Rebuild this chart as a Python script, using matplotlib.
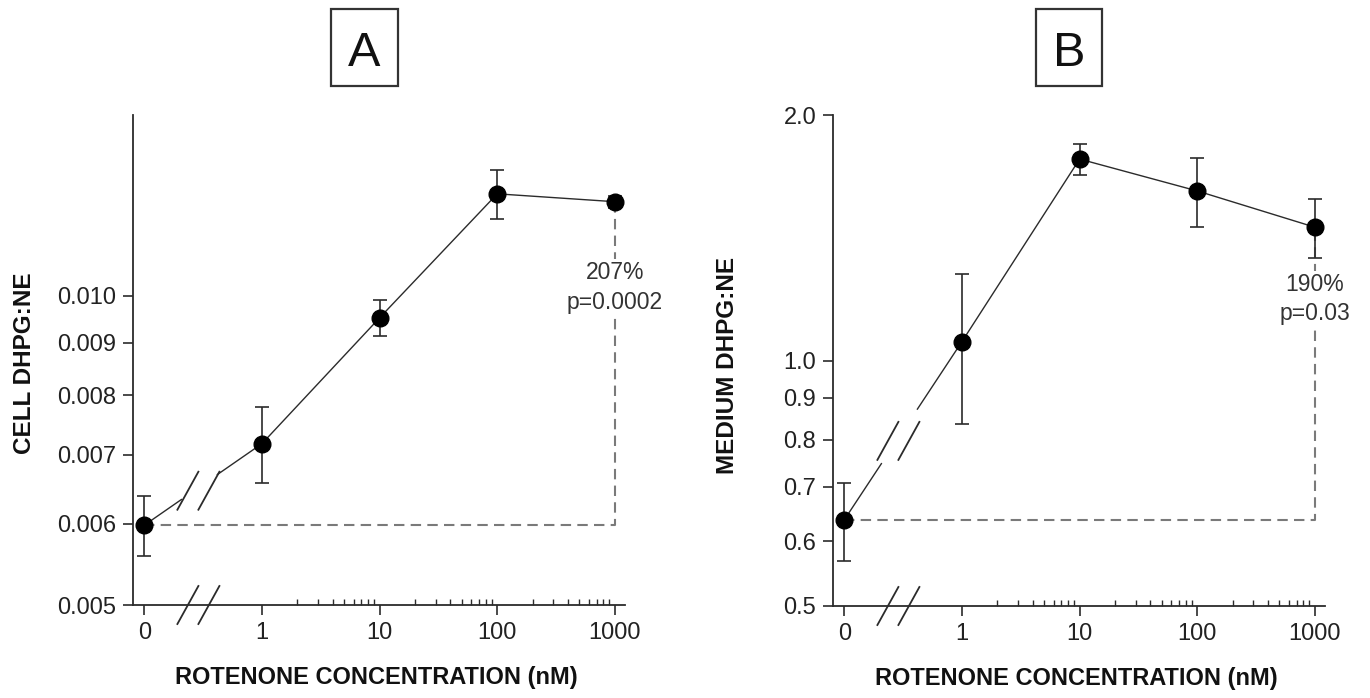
import matplotlib
matplotlib.use("Agg")
import matplotlib.pyplot as plt
import numpy as np
from matplotlib import transforms
from matplotlib.patches import Rectangle
from matplotlib.ticker import FixedLocator, NullLocator

plt.rcParams['font.family'] = ['Liberation Sans', 'DejaVu Sans']

# Rotenone concentrations (nM) and tick labels
conc = [0, 1, 10, 100, 1000]
conc_labels = ["0", "1", "10", "100", "1000"]

# Panel A: cell DHPG:NE ratio (mean, SEM)
cell_mean = [0.00598, 0.00718, 0.00952, 0.01257, 0.01235]
cell_sem = [0.00040, 0.00061, 0.00039, 0.00068, 0.00017]
cell_note = "207%\np=0.0002"

# Panel B: medium DHPG:NE ratio (mean, SEM)
medium_mean = [0.638, 1.055, 1.766, 1.614, 1.457]
medium_sem = [0.070, 0.220, 0.077, 0.155, 0.121]
medium_note = "190%\np=0.03"

cell_yticks = [0.005, 0.006, 0.007, 0.008, 0.009, 0.010]
cell_ylabels = ["0.005", "0.006", "0.007", "0.008", "0.009", "0.010"]
medium_yticks = [0.5, 0.6, 0.7, 0.8, 0.9, 1.0, 2.0]
medium_ylabels = ["0.5", "0.6", "0.7", "0.8", "0.9", "1.0", "2.0"]

ZERO_POS = 0.1          # where the control (0 nM) sits on the log axis
INK = "#2b2b2b"
DASH = "#7a7a7a"

W, H = 1370, 698
fig = plt.figure(figsize=(W / 100, H / 100), dpi=100)


def px_axes(left, top, right, bottom):
    return fig.add_axes([left / W, (H - bottom) / H, (right - left) / W, (bottom - top) / H])


def broken_link(ax, xa, ya, xb, yb):
    """Line from control to 1 nM with an axis-break mark on it and on the x axis."""
    T = ax.transData
    inv = T.inverted()
    pa = T.transform((xa, ya))
    pb = T.transform((xb, yb))

    def at(px):
        t = (px - pa[0]) / (pb[0] - pa[0])
        return pa + t * (pb - pa)

    g0, g1, mid = at(pa[0] + 37), at(pa[0] + 73), at(pa[0] + 54)
    for s, e in [(pa, g0), (g1, pb)]:
        seg = inv.transform([s, e])
        ax.plot(seg[:, 0], seg[:, 1], color=INK, lw=1.0, zorder=3)
    axis_y = T.transform((xa, ax.get_ylim()[0]))[1]
    for cy in (mid[1] - 3, axis_y):
        for cx in (pa[0] + 43.5, pa[0] + 64.5):
            pts = inv.transform([(cx - 10.5, cy - 19), (cx + 10.5, cy + 19)])
            ax.plot(pts[:, 0], pts[:, 1], color=INK, lw=1.3, clip_on=False, zorder=3)


def panel(ax, mean, sem, ylim, yticks, ylabels, note, note_y):
    xpos = [ZERO_POS if c == 0 else c for c in conc]
    ax.set_xscale('log')
    ax.set_yscale('log')
    ax.set_xlim(0.08, 1220)
    ax.set_ylim(*ylim)

    for side in ('top', 'right'):
        ax.spines[side].set_visible(False)
    for side in ('left', 'bottom'):
        ax.spines[side].set_color(INK)
        ax.spines[side].set_linewidth(1.3)

    ax.set_yticks(yticks)
    ax.set_yticklabels(ylabels)
    ax.yaxis.set_minor_locator(NullLocator())
    ax.set_xticks(xpos)
    ax.set_xticklabels(conc_labels)
    minors = [m * d for d in (1, 10, 100) for m in range(2, 10)]
    ax.xaxis.set_minor_locator(FixedLocator(minors))
    ax.tick_params(axis='both', which='major', length=7, width=1.2, color=INK,
                   labelsize=17, labelcolor="#222222", direction='out', pad=5)
    ax.tick_params(axis='x', which='minor', length=4, width=1.0, color=INK,
                   direction='in')

    # reference lines from control level to the 1000 nM point
    ax.plot([xpos[0], xpos[-1], xpos[-1]], [mean[0], mean[0], mean[-1]],
            color=DASH, lw=1.5, linestyle=(0, (5, 3)), zorder=1)

    ax.errorbar(xpos, mean, yerr=sem, fmt='none', ecolor=INK, elinewidth=1.2,
                capsize=5, capthick=1.2, zorder=2)
    ax.plot(xpos[1:], mean[1:], color=INK, lw=1.0, zorder=3)
    ax.plot(xpos, mean, 'o', ms=12, color='black', zorder=5)

    broken_link(ax, xpos[0], mean[0], xpos[1], mean[1])

    trans = transforms.blended_transform_factory(ax.transData, ax.transAxes)
    ax.text(xpos[-1], note_y, note, transform=trans, ha='center', va='center',
            fontsize=16.5, color="#333333", linespacing=1.35, zorder=4,
            bbox=dict(facecolor='white', edgecolor='none', pad=1.5))

    ax.text(0.494, -0.147, "ROTENONE CONCENTRATION (nM)", transform=ax.transAxes,
            ha='center', va='center', fontsize=17, fontweight='bold', color="#111111")


axA = px_axes(133, 115, 625, 605)
axB = px_axes(833, 115, 1325, 606)

panel(axA, cell_mean, cell_sem, (0.005, 0.015), cell_yticks, cell_ylabels,
      cell_note, 0.648)
panel(axB, medium_mean, medium_sem, (0.5, 2.0), medium_yticks, medium_ylabels,
      medium_note, 0.625)

fig.text(25 / W, (H - 363) / H, "CELL DHPG:NE", rotation=90, ha='center', va='center',
         fontsize=17.5, fontweight='bold', color="#111111")
fig.text(727 / W, (H - 365) / H, "MEDIUM DHPG:NE", rotation=90, ha='center', va='center',
         fontsize=17.5, fontweight='bold', color="#111111")

# boxed panel letters
for letter, left, right, cx in (("A", 331, 398, 364.5), ("B", 1036, 1102, 1069)):
    fig.patches.append(Rectangle((left / W, (H - 86) / H), (right - left) / W, 77 / H,
                                 transform=fig.transFigure, fill=False,
                                 edgecolor="#333333", linewidth=1.6))
    fig.text(cx / W, (H - 66) / H, letter, ha='center', va='baseline',
             fontsize=35, color="#111111")

fig.savefig("out.png", dpi=100)
